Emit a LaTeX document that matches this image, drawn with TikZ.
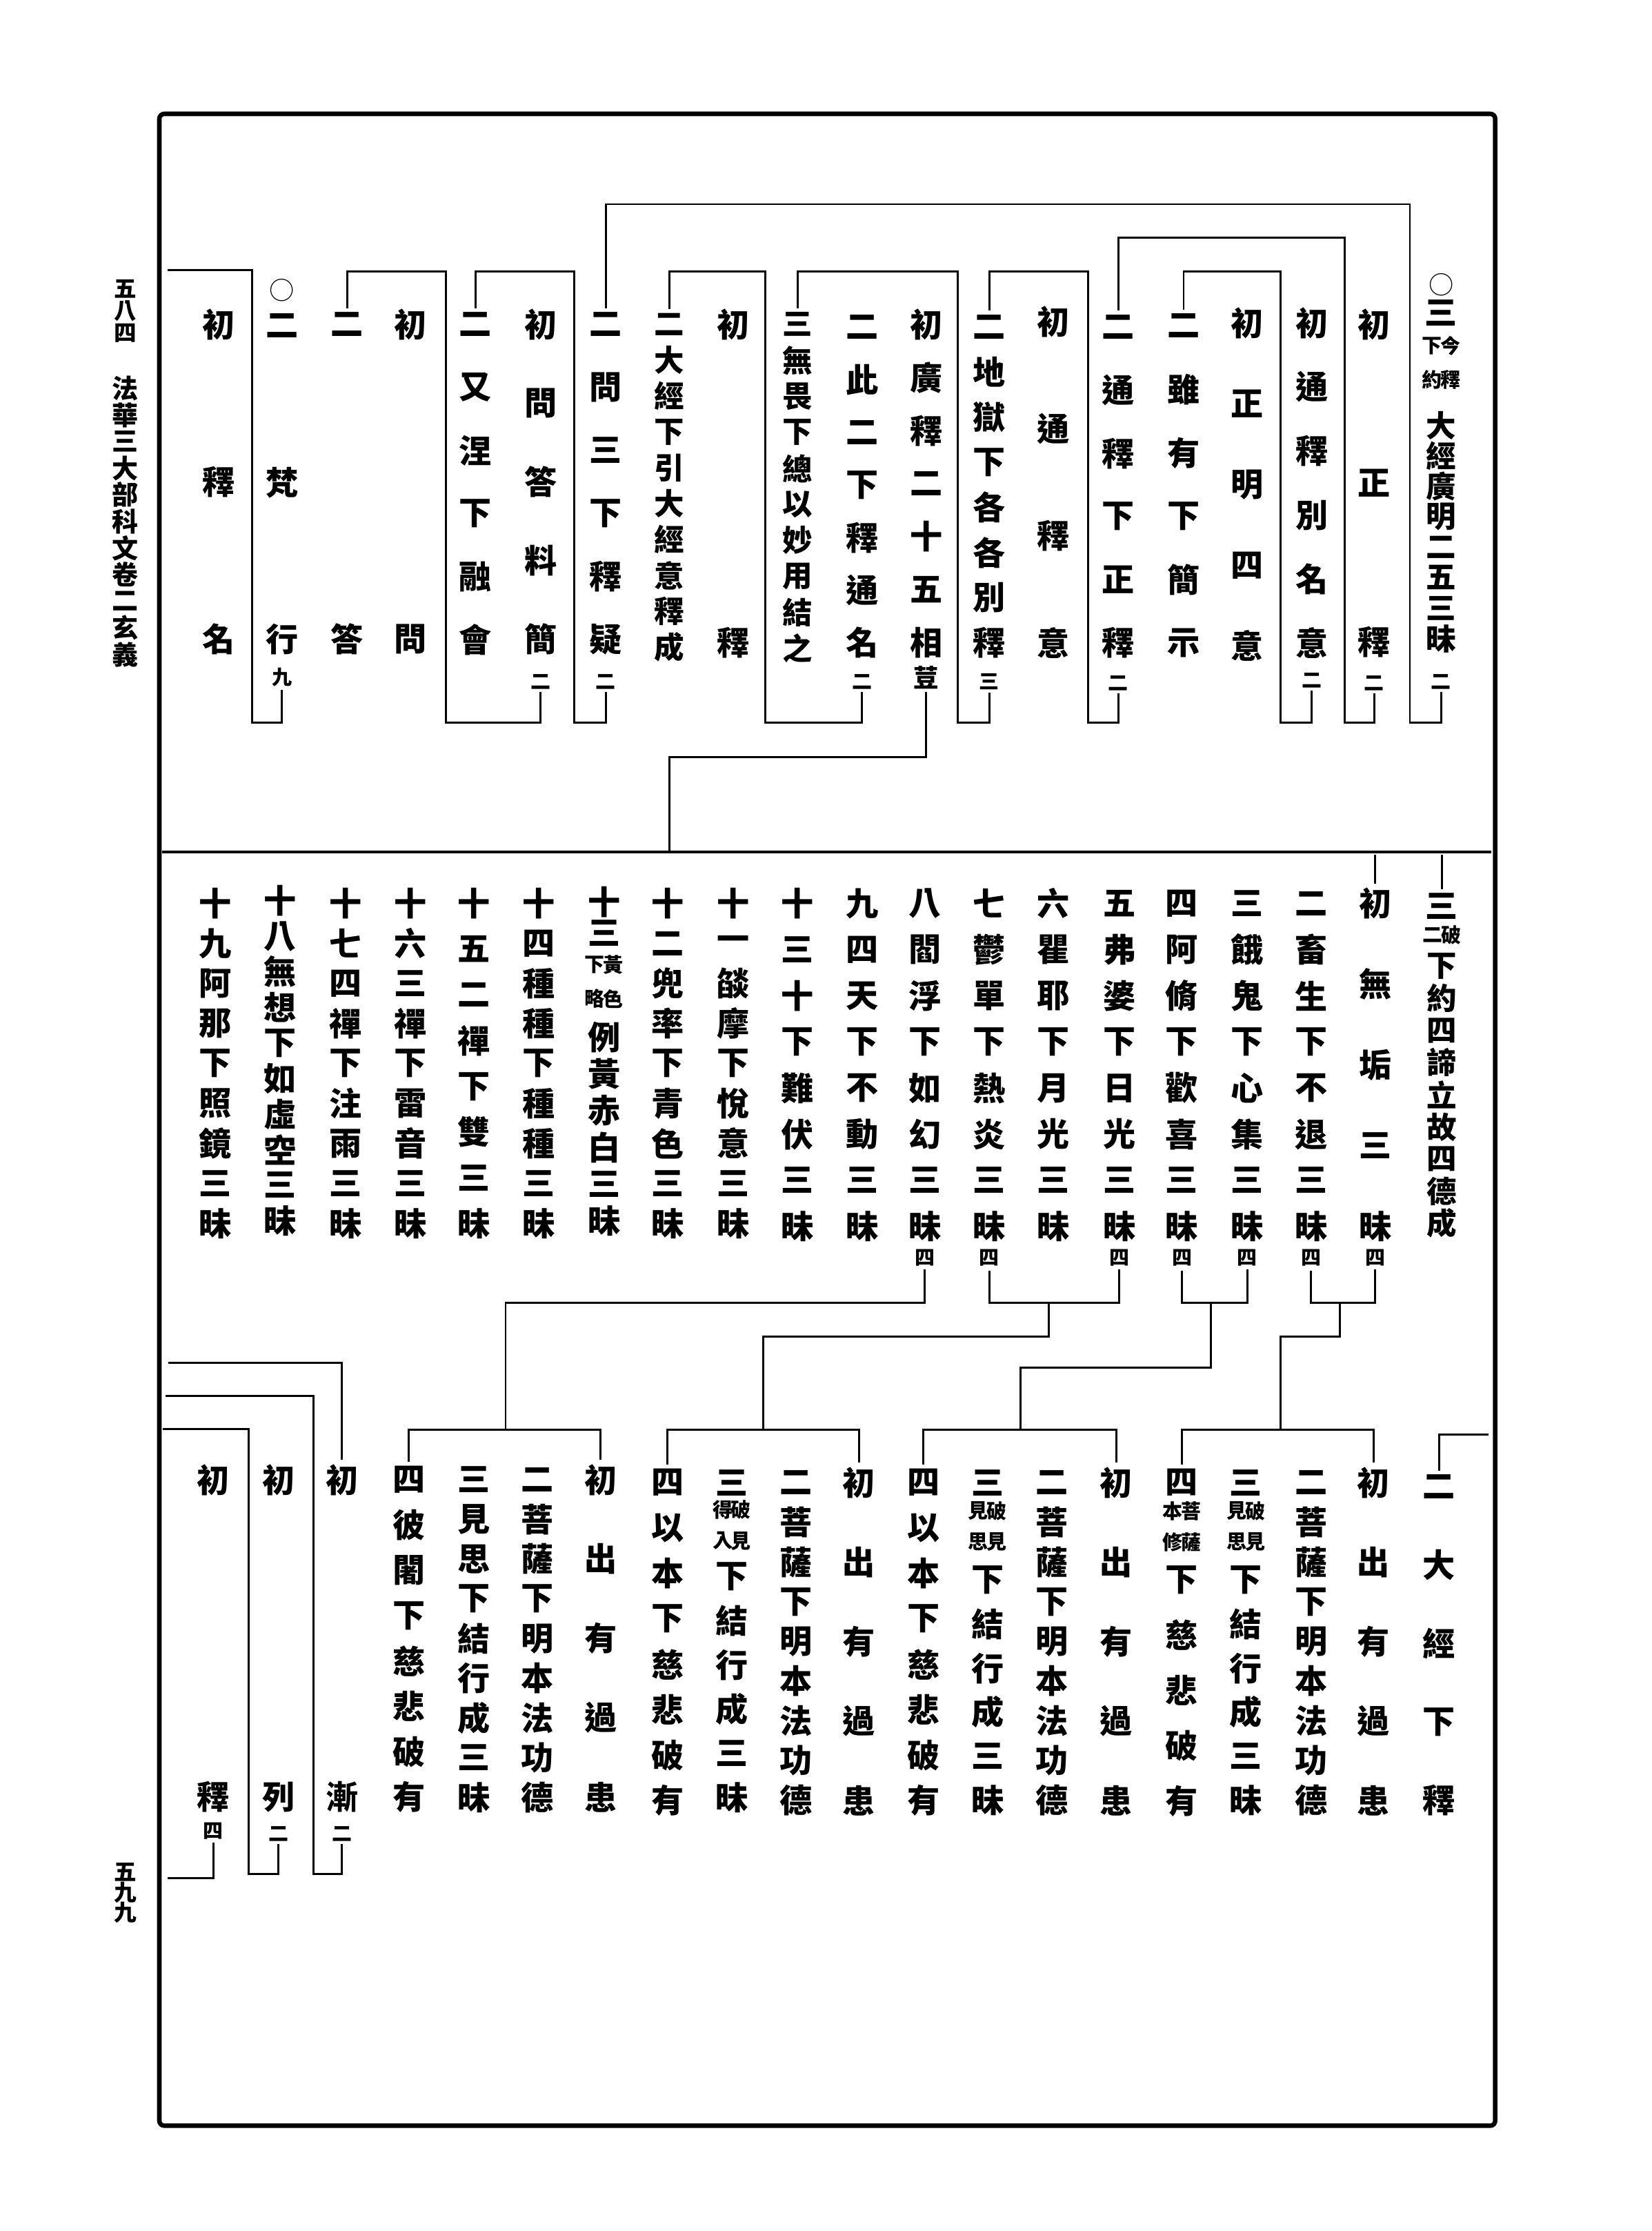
\documentclass[tikz,border=0pt]{standalone}
\usepackage{fontspec}
\newfontfamily\cjk{Noto Sans CJK TC}
\tikzset{
  ch/.style={inner sep=0pt, font=\cjk\bfseries\fontsize{13pt}{13pt}\selectfont},
  chd/.style={inner sep=0pt, font=\cjk\bfseries\fontsize{12pt}{12pt}\selectfont},
  chs/.style={inner sep=0pt, font=\cjk\bfseries\fontsize{10pt}{10pt}\selectfont},
  sm/.style={inner sep=0pt, font=\cjk\bfseries\fontsize{8pt}{8pt}\selectfont},
  circ/.style={inner sep=0pt, font=\cjk\fontsize{10pt}{10pt}\selectfont},
  mg/.style={inner sep=0pt, font=\cjk\bfseries\fontsize{10.5pt}{10.5pt}\selectfont},
  mgs/.style={inner sep=0pt, font=\cjk\bfseries\fontsize{9pt}{9pt}\selectfont},
  ln/.style={line width=0.8pt},
  tk/.style={line width=0.8pt, shorten >=1.5pt, shorten <=1pt},
}
% [style]{name}{x}{first y}{pitch}{chars}
\newcommand\vcol[6][ch]{\foreach \vc [count=\i] in {#6} {\node[#1] (#2-\i) at (#3,{#4+(\i-1)*(#5)}) {\vc};}}
% {name}{x}{first y}{pitch}{right column}{left column}
\newcommand\vnote[6]{%
  \foreach \vc [count=\i] in {#5} {\node[sm] (#1-r\i) at ({#2+6.5},{#3+(\i-1)*(#4)}) {\vc};}%
  \foreach \vc [count=\i] in {#6} {\node[sm] (#1-l\i) at ({#2-6.5},{#3+(\i-1)*(#4)}) {\vc};}}
\newcommand\tailnum[4]{\node[sm] (#1-n) at (#2,#3) {#4};}
\begin{document}
\begin{tikzpicture}[x=0.02cm,y=-0.02cm]
\useasboundingbox (0,0) rectangle (1161,1568);
\draw[line width=1.8pt, rounded corners=2pt] (112,80) rectangle (1051,1494);

% ---------- margin ----------
\vcol[mgs]{P}{88}{203}{15.5}{五,八,四}
\vcol[mg]{Q}{88}{273}{18.7}{法,華,三,大,部,科,文,卷,二,玄,義}
\vcol[mgs]{R}{88}{1316}{14}{五,九,九}

% ---------- top section ----------
\node[circ] (T1-o) at (1013,200) {○};
\node[ch] (T1-h) at (1013,220) {三};
\vnote{T1note}{1013}{243}{24}{今,釋}{下,約}
\vcol[chd]{T1}{1013}{299}{21.4}{大,經,廣,明,二,五,三,昧}
\tailnum{T1}{1013}{479}{二}
\vcol{T2}{966}{228}{111.5}{初,正,釋}
\tailnum{T2}{966}{480}{二}
\vcol{T3}{922}{227}{45}{初,通,釋,別,名,意}
\tailnum{T3}{922}{478}{二}
\vcol{T4}{876.5}{227}{56.75}{初,正,明,四,意}
\vcol{T5}{832}{229}{44.6}{二,雖,有,下,簡,示}
\vcol{T6}{786}{229.8}{44.4}{二,通,釋,下,正,釋}
\tailnum{T6}{786}{480}{二}
\vcol{T7}{740.5}{226}{75.3}{初,通,釋,意}
\vcol{T8}{695.3}{229.8}{31.7}{二,地,獄,下,各,各,別,釋}
\tailnum{T8}{695.3}{479}{三}
\vcol{T9}{651}{228}{37.3}{初,廣,釋,二,十,五,相}
\node[chs] (T9-n) at (651,476) {荳};
\vcol{T10}{606}{229.8}{37}{二,此,二,下,釋,通,名}
\tailnum{T10}{606}{479}{二}
\vcol[chd]{T11}{560.7}{228}{25.3}{三,無,畏,下,總,以,妙,用,結,之}
\vcol{T12}{515.5}{228}{223.9}{初,釋}
\vcol[chd]{T13}{470.4}{228}{25.2}{二,大,經,下,引,大,經,意,釋,成}
\vcol{T14}{425.9}{228}{44.3}{二,問,三,下,釋,疑}
\tailnum{T14}{425.9}{479}{二}
\vcol{T15}{380}{228}{55.3}{初,問,答,料,簡}
\tailnum{T15}{380}{479}{二}
\vcol{T16}{334.3}{228}{44.3}{二,又,涅,下,融,會}
\vcol{T17}{288.6}{228}{221.3}{初,問}
\vcol{T18}{244}{228}{221.3}{二,答}
\node[circ] (T19-o) at (198.2,204) {○};
\vcol{T19}{198.2}{229}{110.15}{二,梵,行}
\tailnum{T19}{198.2}{476}{九}
\vcol{T20}{153.7}{228}{110.65}{初,釋,名}

% top connectors
\coordinate (a1) at (991,508);   \coordinate (a2) at (991,143.5);
\draw[tk] (T1-n.south) |- (a1) -- (a2) -| (T14-1.north);
\coordinate (b1) at (945,508);   \coordinate (b2) at (945,167);
\draw[tk] (T2-n.south) |- (b1) -- (b2) -| (T6-1.north);
\coordinate (c1) at (900,508);   \coordinate (c2) at (900,191);
\draw[tk] (T3-n.south) |- (c1) -- (c2) -| (T5-1.north);
\coordinate (d1) at (765,508);   \coordinate (d2) at (765,191);
\draw[tk] (T6-n.south) |- (d1) -- (d2) -| (T8-1.north);
\coordinate (e1) at (673,508);   \coordinate (e2) at (673,191);
\draw[tk] (T8-n.south) |- (e1) -- (e2) -| (T11-1.north);
\coordinate (f1) at (538,508);   \coordinate (f2) at (538,191);
\draw[tk] (T10-n.south) |- (f1) -- (f2) -| (T13-1.north);
\coordinate (g1) at (403.6,508); \coordinate (g2) at (403.6,191);
\draw[tk] (T14-n.south) |- (g1) -- (g2) -| (T16-1.north);
\coordinate (h1) at (313.3,508); \coordinate (h2) at (313.3,191);
\draw[tk] (T15-n.south) |- (h1) -- (h2) -| (T18-1.north);
\coordinate (i1) at (177.2,508); \coordinate (i2) at (177.2,190); \coordinate (i3) at (117.8,190);
\draw[ln, shorten <=1pt] (T19-n.south) |- (i1) -- (i2) -- (i3);
\coordinate (j1) at (470.4,532); \coordinate (j2) at (470.4,599);
\draw[ln, shorten <=1pt] (T9-n.south) |- (j1) -- (j2);

% ---------- middle section ----------
\coordinate (ML) at (114,599); \coordinate (MR) at (1048,599);
\draw[line width=1.1pt] (ML) -- (MR);
\node[ch] (M1-h) at (1013.5,637) {三};
\vnote{M1note}{1013.5}{657}{20}{破}{二}
\vcol[chd]{M1}{1013.5}{679}{22.6}{下,約,四,諦,立,故,四,德,成}
\vcol{M2}{966.6}{635}{56.75}{初,無,垢,三,昧}
\tailnum{M2}{966.6}{884}{四}
\vcol{M3}{921.6}{635}{32.43}{二,畜,生,下,不,退,三,昧}
\tailnum{M3}{921.6}{884}{四}
\vcol{M4}{876.7}{635}{32.43}{三,餓,鬼,下,心,集,三,昧}
\tailnum{M4}{876.7}{884}{四}
\vcol{M5}{830.8}{635}{32.43}{四,阿,脩,下,歡,喜,三,昧}
\tailnum{M5}{830.8}{884}{四}
\vcol{M6}{786.8}{635}{32.43}{五,弗,婆,下,日,光,三,昧}
\tailnum{M6}{786.8}{884}{四}
\vcol{M7}{740.5}{635}{32.43}{六,瞿,耶,下,月,光,三,昧}
\vcol{M8}{695.3}{635}{32.43}{七,鬱,單,下,熱,炎,三,昧}
\tailnum{M8}{695.3}{884}{四}
\vcol{M9}{650}{635}{32.43}{八,閻,浮,下,如,幻,三,昧}
\tailnum{M9}{650}{884}{四}
\vcol{M10}{606}{635}{32.43}{九,四,天,下,不,動,三,昧}
\vcol{M11}{560.7}{635}{32.43}{十,三,十,下,難,伏,三,昧}
\vcol{M12}{515.5}{635}{28.1}{十,一,燄,摩,下,悅,意,三,昧}
\vcol{M13}{469.2}{635}{28.1}{十,二,兜,率,下,青,色,三,昧}
\vcol{M14a}{424.6}{634}{22}{十,三}
\vnote{M14note}{424.6}{678}{24}{黃,色}{下,略}
\vcol{M14}{424.6}{729}{25.8}{例,黃,赤,白,三,昧}
\vcol{M15}{378.8}{635}{28.1}{十,四,種,種,下,種,種,三,昧}
\vcol{M16}{333}{635}{32.14}{十,五,二,禪,下,雙,三,昧}
\vcol{M17}{288.6}{635}{28.1}{十,六,三,禪,下,雷,音,三,昧}
\vcol{M18}{242.8}{635}{28.1}{十,七,四,禪,下,注,雨,三,昧}
\vcol{M19}{197}{633}{25}{十,八,無,想,下,如,虛,空,三,昧}
\vcol{M20}{151.2}{635}{28.1}{十,九,阿,那,下,照,鏡,三,昧}

\draw[tk] (M1-h.north |- MR) -- (M1-h.north);
\draw[tk] (M2-1.north |- MR) -- (M2-1.north);

% ---------- bottom section ----------
\vcol{B0}{1011.5}{1045}{55.1}{二,大,經,下,釋}
% group 1
\vcol{B1}{965.5}{1042}{55.9}{初,出,有,過,患}
\vcol{B2}{921.6}{1042}{27.9}{二,菩,薩,下,明,本,法,功,德}
\node[ch] (B3-h) at (875.7,1042) {三};
\vnote{B3note}{875.7}{1062}{21.6}{破,見}{見,思}
\vcol{B3}{875.7}{1110.4}{31}{下,結,行,成,三,昧}
\node[ch] (B4-h) at (830.8,1042) {四};
\vnote{B4note}{830.8}{1062}{22}{菩,薩}{本,修}
\vcol{B4}{830.8}{1110.4}{38.8}{下,慈,悲,破,有}
% group 2
\vcol{B5}{784.6}{1042}{55.9}{初,出,有,過,患}
\vcol{B6}{739.4}{1042}{27.9}{二,菩,薩,下,明,本,法,功,德}
\node[ch] (B7-h) at (694.2,1042) {三};
\vnote{B7note}{694.2}{1062}{21.6}{破,見}{見,思}
\vcol{B7}{694.2}{1110.4}{31}{下,結,行,成,三,昧}
\vcol{B8}{649}{1042}{31.93}{四,以,本,下,慈,悲,破,有}
% group 3
\vcol{B9}{603.8}{1042}{55.9}{初,出,有,過,患}
\vcol{B10}{559.6}{1042}{27.9}{二,菩,薩,下,明,本,法,功,德}
\node[ch] (B11-h) at (514.4,1042) {三};
\vnote{B11note}{514.4}{1061}{22}{破,見}{得,入}
\vcol{B11}{514.4}{1108}{31.1}{下,結,行,成,三,昧}
\vcol{B12}{469.2}{1042}{31.93}{四,以,本,下,慈,悲,破,有}
% group 4
\vcol{B13}{422.2}{1040}{55.75}{初,出,有,過,患}
\vcol{B14}{377.6}{1040}{27.9}{二,菩,薩,下,明,本,法,功,德}
\vcol{B15}{333}{1040}{27.9}{三,見,思,下,結,行,成,三,昧}
\vcol{B16}{287.3}{1040}{31.86}{四,彼,闍,下,慈,悲,破,有}
% left
\vcol{B17}{240.3}{1040}{223}{初,漸}
\tailnum{B17}{240.3}{1288.7}{二}
\vcol{B18}{195.8}{1040}{223}{初,列}
\tailnum{B18}{195.8}{1288.7}{二}
\vcol{B19}{150}{1040}{223}{初,釋}
\tailnum{B19}{150}{1287}{四}

% bottom connectors
\coordinate (Mj) at (0,915.8);
\coordinate (Bt) at (0,1005);
\coordinate (k0) at (1048,1008.4);
\draw[tk] (k0) -| (B0-1.north);
% G1
\draw[tk] (M2-n.south) -- (M2-n.south |- Mj) -| (M3-n.south);
\coordinate (k1) at (942,915.8); \coordinate (k2) at (900,939.2); \coordinate (k3) at (900,1005);
\draw[ln] (k1) |- (k2) -- (k3);
\draw[tk] (B1-1.north |- Bt) -| (B4-h.north);
\draw[tk] (B4-h.north |- Bt) -| (B1-1.north);
% G2
\draw[tk] (M4-n.south) -- (M4-n.south |- Mj) -| (M5-n.south);
\coordinate (l1) at (851,915.8); \coordinate (l2) at (717.3,961); \coordinate (l3) at (717.3,1005);
\draw[ln] (l1) |- (l2) -- (l3);
\draw[tk] (B5-1.north |- Bt) -| (B8-1.north);
\draw[tk] (B8-1.north |- Bt) -| (B5-1.north);
% G3
\draw[tk] (M6-n.south) -- (M6-n.south |- Mj) -| (M8-n.south);
\coordinate (m1) at (737.3,915.8); \coordinate (m2) at (536.4,939.2); \coordinate (m3) at (536.4,1005);
\draw[ln] (m1) |- (m2) -- (m3);
\draw[tk] (B9-1.north |- Bt) -| (B12-1.north);
\draw[tk] (B12-1.north |- Bt) -| (B9-1.north);
% G4
\coordinate (n1) at (355.4,915.8); \coordinate (n2) at (355.4,1005);
\draw[ln, shorten <=1pt] (M9-n.south) |- (n1) -- (n2);
\draw[tk] (B13-1.north |- Bt) -| (B16-1.north);
\draw[tk] (B16-1.north |- Bt) -| (B13-1.north);
% left brackets
\coordinate (o1) at (116.6,958);
\draw[tk] (o1) -| (B17-1.north);
\coordinate (o2) at (220.5,1317); \coordinate (o3) at (220.5,981); \coordinate (o4) at (116.6,981);
\draw[ln, shorten <=1pt] (B17-n.south) |- (o2) -- (o3) -- (o4);
\coordinate (p2) at (174.7,1317); \coordinate (p3) at (174.7,1004.3); \coordinate (p4) at (114.5,1004.3);
\draw[ln, shorten <=1pt] (B18-n.south) |- (p2) -- (p3) -- (p4);
\coordinate (q1) at (117.8,1320);
\draw[ln, shorten <=1pt] (B19-n.south) |- (q1);
\end{tikzpicture}
\end{document}
